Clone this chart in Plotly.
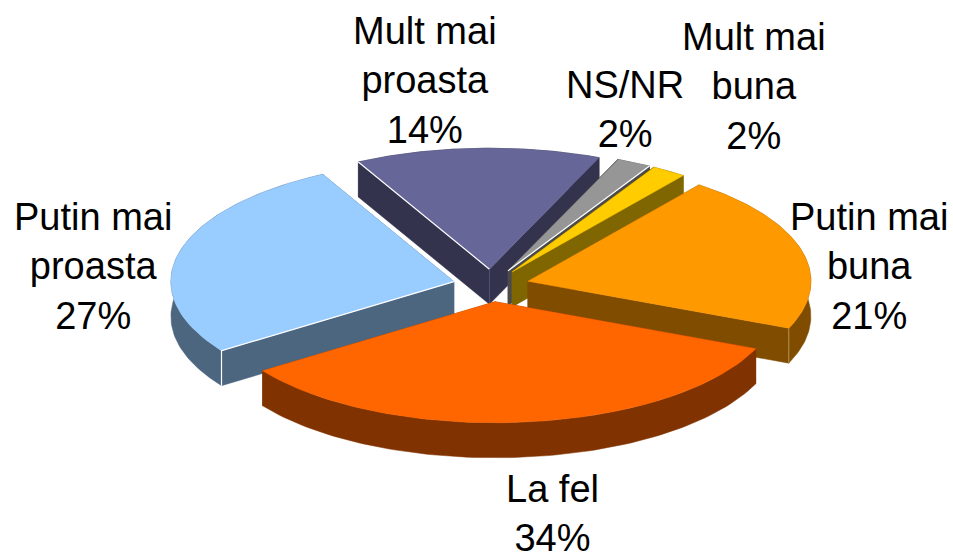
import numpy as np
import plotly.graph_objects as go

# Data, clockwise from the starting angle
categories = ["Mult mai<br>buna", "Putin mai<br>buna", "La fel",
              "Putin mai<br>proasta", "Mult mai<br>proasta", "NS/NR"]
values = [2, 21, 34, 27, 14, 2]

# Styles
top_colors = ["#ffcc00", "#ff9900", "#ff6600", "#99ccff", "#666699", "#969696"]
side_colors = ["#806600", "#804d00", "#803300", "#4d6680", "#33334d", "#4b4b4b"]
draw_order = [4, 5, 0, 1, 3, 2]
label_pos = [(754, 86), (869, 266), (552, 513), (93, 266), (425, 80), (625, 109)]

# Pie geometry (page pixels used as axis units)
CX, CY, RX, RY = 491.0, 285.5, 283.0, 121.0
EXPLODE, DEPTH, START = 0.135, 35.0, 30.0

fig = go.Figure()


def add_poly(xs, ys, color):
    fig.add_trace(go.Scatter(x=xs, y=ys, mode="lines", fill="toself",
                             fillcolor=color, line=dict(color=color, width=0.5),
                             hoverinfo="skip", showlegend=False))


def add_edge(xs, ys, color, width=1.2):
    fig.add_trace(go.Scatter(x=xs, y=ys, mode="lines",
                             line=dict(color=color, width=width),
                             hoverinfo="skip", showlegend=False))


total = sum(values)
edges = START + np.concatenate([[0], np.cumsum(values)]) * 360.0 / total
geom = []
for i in range(len(values)):
    a0, a1 = edges[i], edges[i + 1]
    mid = np.radians((a0 + a1) / 2)
    ax = CX + EXPLODE * RX * np.sin(mid)
    ay = CY - EXPLODE * RY * np.cos(mid)
    t = np.radians(np.linspace(a0, a1, 90))
    geom.append((ax, ay, ax + RX * np.sin(t), ay - RY * np.cos(t)))

for i in draw_order:
    ax, ay, ex, ey = geom[i]
    side = side_colors[i]
    # cut walls
    add_poly([ax, ex[0], ex[0], ax, ax], [ay, ey[0], ey[0] + DEPTH, ay + DEPTH, ay], side)
    add_poly([ax, ex[-1], ex[-1], ax, ax], [ay, ey[-1], ey[-1] + DEPTH, ay + DEPTH, ay], side)
    # outer rim
    add_poly(list(ex) + list(ex[::-1]), list(ey) + list((ey + DEPTH)[::-1]), side)
    # top face
    add_poly([ax] + list(ex) + [ax], [ay] + list(ey) + [ay], top_colors[i])
    # highlighted edges
    if i == 3:
        add_edge([ax, ex[0], ex[0]], [ay, ey[0], ey[0] + DEPTH], "#ffffff")
    if i == 4:
        add_edge([ax, ex[0]], [ay, ey[0]], "#ffffff")
        add_edge([ax, ax], [ay, ay + DEPTH], "#55557a", 0.8)
    if i == 1:
        add_edge([ex[-1], ex[-1]], [ey[-1], ey[-1] + DEPTH], "#c0a060", 0.8)
    if i == 5:
        add_edge([ax, ex[-1]], [ay, ey[-1]], "#ffffff")

for i, (cat, val) in enumerate(zip(categories, values)):
    fig.add_annotation(x=label_pos[i][0], y=label_pos[i][1], text=f"{cat}<br>{val}%",
                       showarrow=False, xanchor="center", yanchor="middle", align="center",
                       font=dict(family="Liberation Sans, Arial, sans-serif", size=38, color="#000000"))

fig.update_layout(width=953, height=556, margin=dict(l=0, r=0, t=0, b=0),
                  paper_bgcolor="#ffffff", plot_bgcolor="#ffffff", showlegend=False,
                  xaxis=dict(range=[0, 953], visible=False, fixedrange=True),
                  yaxis=dict(range=[556, 0], visible=False, fixedrange=True))
fig.write_html("out.html", config={"displayModeBar": False},
               post_script="document.body.style.margin='0';document.body.style.overflow='hidden';")
